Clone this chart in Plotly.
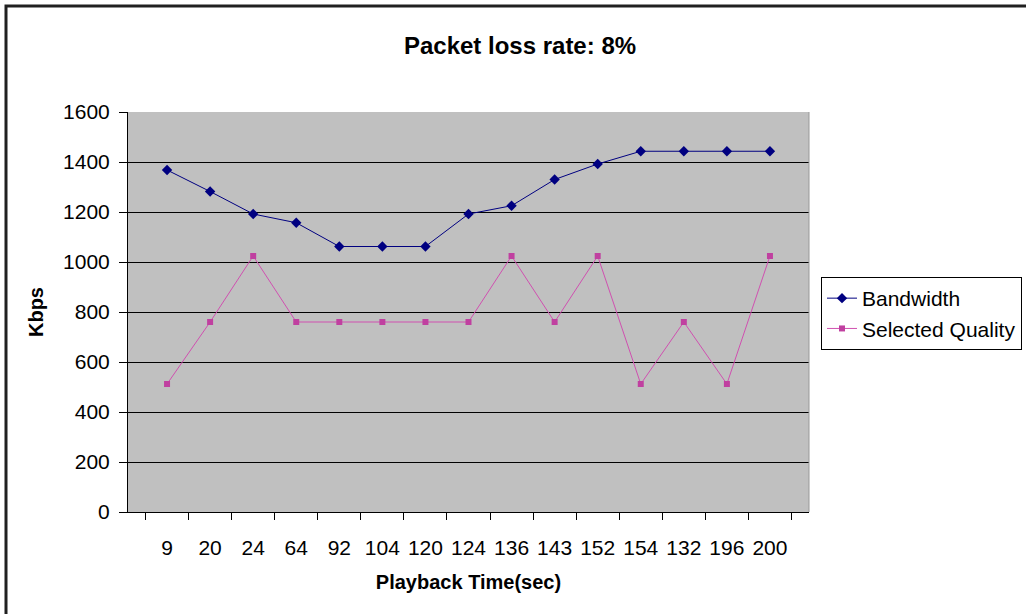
import plotly.graph_objects as go

categories = ["9", "20", "24", "64", "92", "104", "120", "124", "136", "143", "152", "154", "132", "196", "200"]
bandwidth = [1368, 1282, 1192, 1157, 1062, 1062, 1062, 1192, 1225, 1330, 1392, 1443, 1443, 1443, 1443]
selected_quality = [512, 760, 1024, 760, 760, 760, 760, 760, 1024, 760, 1024, 512, 760, 512, 1024]
y_ticks = [0, 200, 400, 600, 800, 1000, 1200, 1400, 1600]

W, H = 1026, 614
L, R, T, B = 128, W - 809, 112, H - 512
pw, ph = W - L - R, H - T - B

fig = go.Figure()
fig.add_trace(go.Scatter(
    x=categories, y=bandwidth, name="Bandwidth", mode="lines+markers",
    line=dict(color="#000080", width=1),
    marker=dict(symbol="diamond", size=8, color="#000080"),
))
fig.add_trace(go.Scatter(
    x=categories, y=selected_quality, name="Selected Quality", mode="lines+markers",
    line=dict(color="#D050B0", width=1),
    marker=dict(symbol="square", size=6, color="#C040A0"),
))

font = "Liberation Sans, Arial, sans-serif"
fig.update_layout(
    width=W, height=H,
    margin=dict(l=L, r=R, t=T, b=B, autoexpand=False),
    paper_bgcolor="white",
    plot_bgcolor="#C0C0C0",
    font=dict(family=font, size=21, color="black"),
    title=dict(text="<b>Packet loss rate: 8%</b>", x=520 / W, xanchor="center",
               y=1 - 46 / H, yanchor="middle", font=dict(size=24)),
    showlegend=True,
    legend=dict(x=(821 - L) / pw, xanchor="left", y=(512 - 277) / ph, yanchor="top",
                bgcolor="white", bordercolor="black", borderwidth=1,
                font=dict(size=21), tracegroupgap=0, itemwidth=30),
    xaxis=dict(
        type="category", showgrid=False, showline=True, linecolor="black", linewidth=1,
        ticks="outside", tickson="boundaries", ticklen=7, tickcolor="black",
        tickangle=0, ticklabelstandoff=17,
        title=dict(text="<b>Playback Time(sec)</b>", font=dict(size=20), standoff=16),
        tickfont=dict(size=21), mirror=False,
    ),
    yaxis=dict(
        range=[0, 1600], tickvals=y_ticks, showgrid=True, gridcolor="black", gridwidth=1,
        showline=True, linecolor="black", linewidth=1, ticks="outside", ticklen=8,
        tickcolor="black", zeroline=False, ticklabelstandoff=5,
        title=dict(text="<b>Kbps</b>", font=dict(size=20), standoff=14),
        tickfont=dict(size=21),
    ),
    shapes=[
        dict(type="rect", xref="paper", yref="paper",
             x0=(6 - L) / pw, x1=(W + 10 - L) / pw,
             y0=(512 - H - 10) / ph, y1=(512 - 6) / ph,
             line=dict(color="#202020", width=3), fillcolor="rgba(0,0,0,0)", layer="above"),
        dict(type="line", xref="paper", yref="paper", x0=1, x1=1, y0=0, y1=1,
             line=dict(color="#999999", width=1)),
    ],
)

fig.write_html("out.html", config={"displayModeBar": False},
               post_script="document.body.style.margin='0';document.body.style.overflow='hidden';")
